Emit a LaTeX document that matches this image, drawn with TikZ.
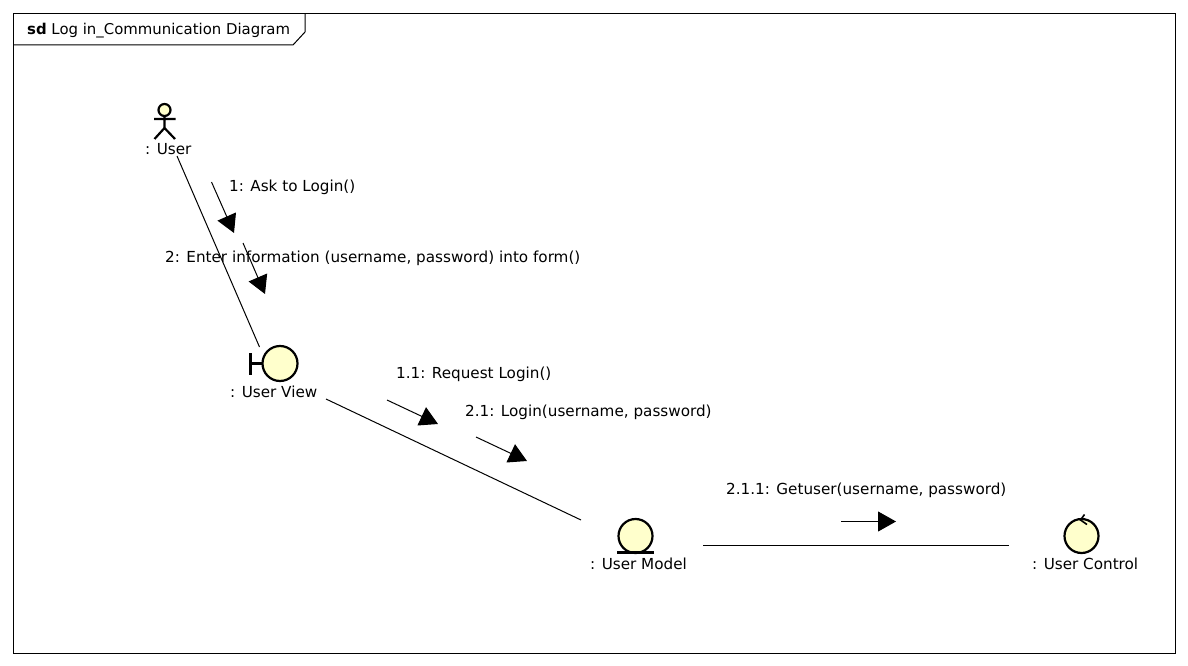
\documentclass[tikz,border=0pt]{standalone}
\usepackage{fontspec}
\setmainfont{DejaVu Sans}
\usetikzlibrary{arrows.meta}
\definecolor{umlfill}{HTML}{FFFFCC}
\tikzset{
  x=1pt,y=-1pt,
  lbl/.style={inner sep=0pt,anchor=west,font=\fontsize{15.2}{18}\selectfont,text=black},
  glyph/.style={draw=black,line width=2.2pt,fill=umlfill,outer sep=0pt},
  stroke/.style={draw=black,line width=2.2pt},
  link/.style={draw=black,line width=1pt},
  msg/.style={draw=black,line width=1pt,-{Triangle[length=18pt,width=20pt]},shorten >=0pt},
}
\begin{document}
\begin{tikzpicture}
\useasboundingbox (0,0) rectangle (1188,666);
% frame
\node[draw=black,line width=1pt,outer sep=0pt,minimum width=1161.5pt,minimum height=640pt,inner sep=0pt,anchor=north west] (frame) at (13.5,13.5) {};
\draw[line width=1pt] (13.5,45) -- (293,45) -- (305,32) -- (305,13.5);
\node[lbl,font=\fontsize{14.9}{18}\selectfont] (title) at (27,30.5) {\textbf{sd} Log in\_Communication Diagram};
% actor
\node[glyph,circle,minimum size=12pt,inner sep=0pt] (actorhead) at (164.5,110) {};
\coordinate (hip) at (164.5,128);
\coordinate (handL) at (154,119);
\coordinate (handR) at (175.5,119);
\coordinate (footL) at (154.5,139);
\coordinate (footR) at (175,139);
\draw[stroke] (actorhead.south) -- (hip) (handL) -- (handR) (footL) -- (hip) -- (footR);
\node[lbl] (user) at (145,149) {: User};
% boundary
\node[glyph,circle,minimum size=35pt,inner sep=0pt] (view) at (280,363.5) {};
\coordinate (barT) at (250.5,353);
\coordinate (barB) at (250.5,375);
\coordinate (barM) at (250.5,363.5);
\draw[stroke] (barT) -- (barB) (barM) -- (view.west);
\node[lbl] (viewl) at (230,392) {: User View};
% entity
\node[glyph,circle,minimum size=34pt,inner sep=0pt] (model) at (635.5,536) {};
\coordinate (ulL) at (617,552.5);
\coordinate (ulR) at (654,552.5);
\draw[stroke] (ulL) -- (ulR);
\node[lbl] (modell) at (590,564) {: User Model};
% control
\node[glyph,circle,minimum size=34pt,inner sep=0pt] (ctrl) at (1081.5,536) {};
\coordinate (ch1) at (1084.5,514.5);
\coordinate (ch2) at (1080.5,520);
\coordinate (ch3) at (1087,524.5);
\draw[line width=1.6pt] (ch1) -- (ch2) -- (ch3);
\node[lbl] (ctrll) at (1032,564) {: User Control};
% links
\coordinate (l1a) at (177,156);
\coordinate (l1b) at (259.5,347);
\coordinate (l2a) at (326,399);
\coordinate (l2b) at (581,520);
\coordinate (l3a) at (703,545);
\coordinate (l3b) at (1009,545);
\draw[link] (l1a) -- (l1b);
\draw[link] (l2a) -- (l2b);
\draw[link] (l3a) -- (l3b);
% messages
\coordinate (m1a) at (211.5,182);
\coordinate (m1b) at (234,233);
\coordinate (m2a) at (243,243);
\coordinate (m2b) at (265,294);
\coordinate (m3a) at (387,400);
\coordinate (m3b) at (438,424);
\coordinate (m4a) at (476,437);
\coordinate (m4b) at (527,461);
\coordinate (m5a) at (841,521.5);
\coordinate (m5b) at (896,521.5);
\draw[msg] (m1a) -- (m1b);
\draw[msg] (m2a) -- (m2b);
\draw[msg] (m3a) -- (m3b);
\draw[msg] (m4a) -- (m4b);
\draw[msg] (m5a) -- (m5b);
\node[lbl] (t1) at (229,187) {1: Ask to Login()};
\node[lbl] (t2) at (165,258) {2: Enter information (username, password) into form()};
\node[lbl] (t3) at (396,374) {1.1: Request Login()};
\node[lbl] (t4) at (465,412) {2.1: Login(username, password)};
\node[lbl] (t5) at (726,490) {2.1.1: Getuser(username, password)};
\end{tikzpicture}
\end{document}
